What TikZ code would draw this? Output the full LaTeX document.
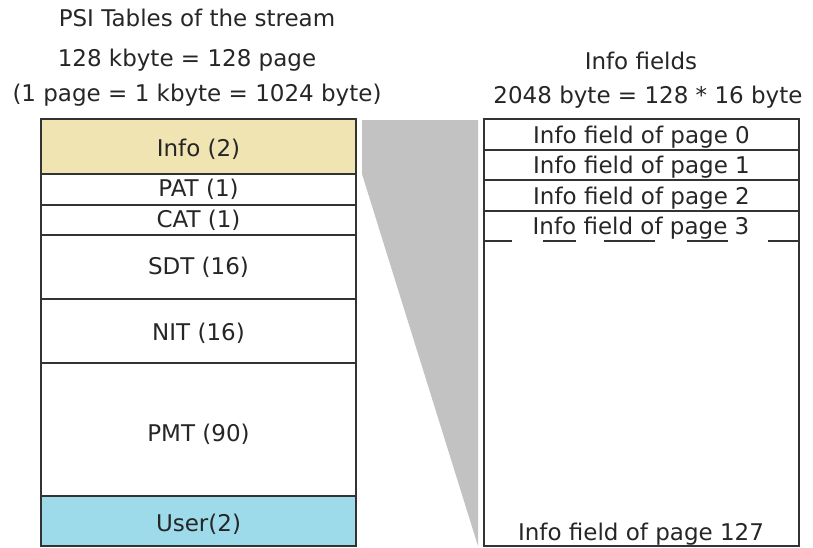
\documentclass[tikz,border=0pt]{standalone}
\usepackage{fontspec}
\setmainfont{DejaVu Sans}
\begin{document}
\begin{tikzpicture}[x=1pt,y=-1pt,
  lbl/.style={font=\fontsize{23}{27}\selectfont, text=black!85, text height=16pt, text depth=0pt},
  txt/.style={lbl, inner sep=0pt},
  seg/.style={lbl, draw=black!80, line width=1.2pt, minimum width=315pt, inner sep=0pt},
  field/.style={seg, text height=17.6pt}
]
\definecolor{infotan}{HTML}{F0E4B2}
\definecolor{userblue}{HTML}{9DDAEA}
\definecolor{fan}{HTML}{C2C2C2}
\useasboundingbox (0,0) rectangle (813,547);

% headings
\node[txt] (h1) at (197,18.7) {PSI Tables of the stream};
\node[txt] (h2) at (187,58.7) {128 kbyte = 128 page};
\node[txt] (h3) at (197,93.7) {(1 page = 1 kbyte = 1024 byte)};
\node[txt] (h4) at (641,61.3) {Info fields};
\node[txt] (h5) at (648,95.3) {2048 byte = 128 * 16 byte};

% zoom fan between the two columns
\fill[fan] (362,120) -- (478,120) -- (478,546) -- (362,174) -- cycle;

% left column: memory layout of the tables
\node[seg, fill=infotan, minimum height=55pt, text height=19pt] (info) at (198.5,146.5) {Info (2)};
\node[seg, minimum height=31pt, text height=14.6pt] (pat) at (198.5,189.5) {PAT (1)};
\node[seg, minimum height=30pt, text height=14.6pt] (cat) at (198.5,220) {CAT (1)};
\node[seg, minimum height=64pt, text height=14.6pt] (sdt) at (198.5,267) {SDT (16)};
\node[seg, minimum height=64pt, text height=18pt] (nit) at (198.5,331) {NIT (16)};
\node[seg, minimum height=133pt, text height=24pt] (pmt) at (198.5,429.5) {PMT (90)};
\node[seg, fill=userblue, minimum height=50pt, text height=21.4pt] (user) at (198.5,521) {User(2)};

% right column: info fields
\node[draw=black!80, line width=1.2pt, minimum width=315pt, minimum height=427pt, inner sep=0pt] (fields) at (641.5,332.5) {};
\node[field, minimum height=31pt] (f0) at (641.5,134.5) {Info field of page 0};
\node[field, minimum height=30pt] (f1) at (641.5,165) {Info field of page 1};
\node[field, minimum height=31pt] (f2) at (641.5,195.5) {Info field of page 2};
\node[txt] (f3) at (641,226.3) {Info field of page 3};
\node[txt] (f127) at (641,532) {Info field of page 127};

% broken line under page 3
\draw[black!80, line width=1.2pt] (fields.west |- 0,241) -- (512,241)
  (543,241) -- (576,241) (604,241) -- (655,241) (687,241) -- (728,241)
  (768,241) -- (fields.east |- 0,241);
\end{tikzpicture}
\end{document}
